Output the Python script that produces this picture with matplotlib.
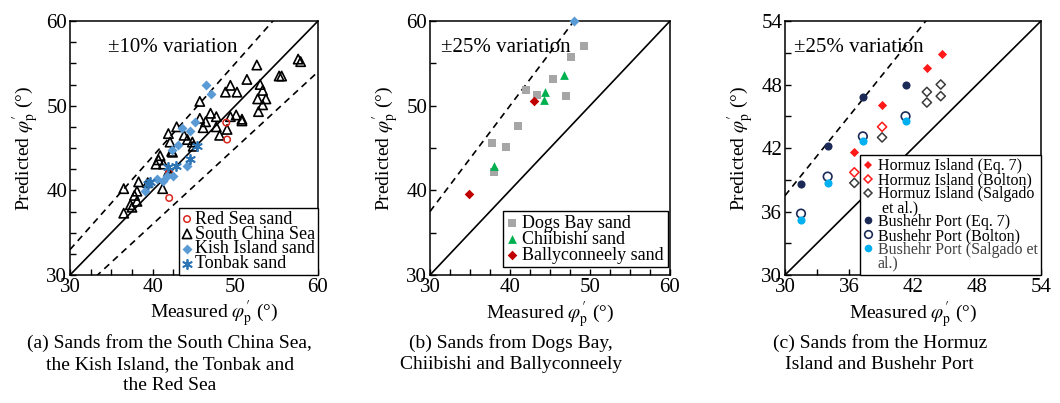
import matplotlib.pyplot as plt
from matplotlib.lines import Line2D
from matplotlib.ticker import MultipleLocator
import numpy as np

plt.rcParams['font.family'] = ['Liberation Serif', 'DejaVu Serif']
plt.rcParams['mathtext.fontset'] = 'stix'

# (a) South China Sea, Kish Island, Tonbak, Red Sea
red_sea_x = [48.9, 49.0, 42.0, 42.0]
red_sea_y = [48.0, 46.0, 42.1, 39.1]
scs_x = [52.6, 57.6, 57.9, 55.3, 55.6, 51.4, 49.4, 48.8, 50.2, 53.0, 53.3, 52.7, 53.7,
         53.3, 52.8, 45.7, 47.0, 47.7, 45.7, 46.4, 46.1, 49.4, 50.1, 50.8, 50.8, 47.7,
         49.0, 48.1, 42.9, 41.9, 43.8, 44.2, 44.8, 42.1, 42.3, 42.4, 44.9, 40.9, 40.7,
         40.4, 41.3, 41.9, 41.2, 38.3, 39.4, 36.5, 38.1, 37.8, 38.1, 37.3, 37.5, 36.5]
scs_y = [54.8, 55.5, 55.2, 53.5, 53.5, 53.1, 52.4, 51.6, 51.6, 52.5, 51.8, 50.8, 50.8,
         50.1, 49.3, 50.5, 49.1, 48.7, 48.5, 48.1, 47.4, 48.7, 48.9, 48.4, 48.2, 47.5,
         47.2, 46.5, 47.5, 46.7, 46.5, 46.0, 45.7, 45.7, 44.6, 44.5, 45.2, 44.1, 43.6,
         43.1, 43.1, 42.2, 40.2, 41.0, 40.9, 40.2, 39.9, 39.4, 38.7, 38.3, 38.0, 37.3]
kish_x = [46.5, 47.0, 45.1, 43.5, 44.5, 43.1, 42.3, 44.1, 41.7, 42.4, 41.3, 40.5, 39.1]
kish_y = [52.4, 51.4, 48.1, 47.4, 47.0, 45.4, 44.8, 42.9, 41.7, 41.7, 41.1, 41.3, 39.9]
tonbak_x = [39.4, 39.7, 41.8, 42.8, 44.5, 45.4]
tonbak_y = [40.7, 41.0, 42.7, 42.9, 43.7, 45.2]

# (b) Dogs Bay, Chiibishi, Ballyconneely
dogs_x = [49.2, 47.6, 45.4, 43.4, 42.0, 47.0, 41.0, 37.7, 39.5, 38.0]
dogs_y = [57.0, 55.8, 53.1, 51.3, 51.9, 51.1, 47.6, 45.6, 45.1, 42.2]
chii_x = [46.75, 44.4, 44.25, 38.0]
chii_y = [53.6, 51.6, 50.7, 42.9]
bally_x = [43.0, 34.9]
bally_y = [50.5, 39.6]
edge_x = [48.0]
edge_y = [60.0]

# (c) Hormuz Island and Bushehr Port
hz_eq7_x = [44.7, 43.3, 39.1, 36.5]
hz_eq7_y = [50.9, 49.6, 46.1, 41.6]
hz_bol_x = [39.1, 36.5]
hz_bol_y = [44.0, 39.7]
hz_sal_x = [44.6, 44.6, 43.3, 43.3, 39.1, 36.5]
hz_sal_y = [48.0, 46.9, 47.3, 46.3, 43.0, 38.7]
bp_x = [41.3, 37.3, 34.0, 31.5]
bp_eq7_y = [48.0, 46.8, 42.2, 38.6]
bp_bol_y = [45.0, 43.1, 39.3, 35.8]
bp_sal_y = [44.55, 42.7, 38.7, 35.2]

xlabel = r'Measured $\varphi^{\prime}_{\rm p}$ (°)'
ylabel = r'Predicted $\varphi^{\prime}_{\rm p}$ (°)'

fig = plt.figure(figsize=(10.6, 4.03), dpi=100)
W, H = 1060, 403


def box(left, right, top, bottom):
    return [left / W, 1 - bottom / H, (right - left) / W, (bottom - top) / H]


ax_a = fig.add_axes(box(70, 318, 21, 275))
ax_b = fig.add_axes(box(430, 670, 21, 275))
ax_c = fig.add_axes(box(785, 1041, 21, 275))


def setup(ax, lo, hi, major, xminor, yminor, var, text):
    ax.set_xlim(lo, hi)
    ax.set_ylim(lo, hi)
    ax.xaxis.set_major_locator(MultipleLocator(major))
    ax.yaxis.set_major_locator(MultipleLocator(major))
    ax.xaxis.set_minor_locator(MultipleLocator(xminor))
    ax.yaxis.set_minor_locator(MultipleLocator(yminor))
    ax.tick_params(which='both', direction='in', length=4, width=1,
                   top=False, right=False, labelsize=15, pad=2)
    for s in ax.spines.values():
        s.set_linewidth(1.1)
    xs = np.array([lo, hi])
    ax.plot(xs, xs, color='black', lw=1.2, zorder=1)
    ax.plot(xs, xs * (1 + var), color='black', lw=1.2, ls=(0, (4, 3)), zorder=1)
    ax.set_xlabel(xlabel, fontsize=14, labelpad=2)
    ax.set_ylabel(ylabel, fontsize=14, labelpad=4)
    ax.text(0.155, 0.895, text, transform=ax.transAxes, fontsize=15,
            va='center', ha='left')


setup(ax_a, 30, 60, 10, 2.5, 2.5, 0.10, '±10% variation')
ax_a.plot([30, 60], [27, 54], color='black', lw=1.2, ls=(0, (4, 3)), zorder=1)
ax_a.xaxis.set_label_coords(0.58, -0.09)
setup(ax_b, 30, 60, 10, 2.5, 5, 0.25, '±25% variation')
setup(ax_c, 30, 54, 6, 3, 3, 0.25, '±25% variation')
ax_b.texts[0].set_x(0.045)
ax_c.texts[0].set_x(0.035)

# panel (a)
ax_a.scatter(red_sea_x, red_sea_y, s=22, facecolor='none', edgecolor='#d7261e',
             lw=1.1, label='Red Sea sand', zorder=3)
ax_a.scatter(scs_x, scs_y, s=45, marker='^', facecolor='none', edgecolor='black',
             lw=1.2, label='South China Sea', zorder=2)
ax_a.scatter(kish_x, kish_y, s=26, marker='D', color='#5b9bd5', lw=0,
             label='Kish Island sand', zorder=3)
ax_a.scatter(tonbak_x, tonbak_y, s=45, marker=(6, 2, 0), color='#2e75b6', lw=1.3,
             label='Tonbak sand', zorder=3)
ax_a.legend(loc='lower right', fontsize=13, frameon=True, fancybox=False,
            edgecolor='black', framealpha=1, borderaxespad=0, borderpad=0.15,
            handlelength=0.6, handletextpad=0.15, labelspacing=-0.12)

# panel (b)
ax_b.scatter(dogs_x, dogs_y, s=26, marker='s', color='#a6a6a6', lw=0,
             label='Dogs Bay sand', zorder=3)
ax_b.scatter(chii_x, chii_y, s=40, marker='^', color='#00b050', lw=0,
             label='Chiibishi sand', zorder=3)
ax_b.scatter(bally_x, bally_y, s=24, marker='D', color='#c00000', lw=0,
             label='Ballyconneely sand', zorder=3)
ax_b.scatter(edge_x, edge_y, s=26, marker='D', color='#5b9bd5', lw=0,
             zorder=4, clip_on=False)
ax_b.legend(loc='lower right', bbox_to_anchor=(0.99, 0.03), fontsize=13,
            frameon=True, fancybox=False, edgecolor='black', framealpha=1,
            borderaxespad=0, borderpad=0.2, handlelength=0.6,
            handletextpad=0.3, labelspacing=-0.05)

# panel (c)
ax_c.scatter(hz_eq7_x, hz_eq7_y, s=22, marker='D', color='#ff1a1a', lw=0, zorder=3)
ax_c.scatter(hz_bol_x, hz_bol_y, s=22, marker='D', facecolor='none',
             edgecolor='#ff1a1a', lw=1.1, zorder=3)
ax_c.scatter(hz_sal_x, hz_sal_y, s=22, marker='D', facecolor='none',
             edgecolor='#3a3a3a', lw=1.1, zorder=3)
ax_c.scatter(bp_x, bp_eq7_y, s=34, color='#1c2a57', lw=0, zorder=3)
ax_c.scatter(bp_x, bp_bol_y, s=38, facecolor='none', edgecolor='#1c2a57',
             lw=1.2, zorder=3)
ax_c.scatter(bp_x, bp_sal_y, s=34, color='#00b0f0', lw=0, zorder=3)

blank = Line2D([], [], ls='none')
handles_c = [
    Line2D([], [], ls='none', marker='D', ms=4.5, color='#ff1a1a', mew=0),
    Line2D([], [], ls='none', marker='D', ms=4.5, mfc='none', mec='#ff1a1a', mew=1.1),
    Line2D([], [], ls='none', marker='D', ms=4.5, mfc='none', mec='#3a3a3a', mew=1.1),
    blank,
    Line2D([], [], ls='none', marker='o', ms=5.5, color='#1c2a57', mew=0),
    Line2D([], [], ls='none', marker='o', ms=5.5, mfc='none', mec='#1c2a57', mew=1.2),
    Line2D([], [], ls='none', marker='o', ms=5.5, color='#00b0f0', mew=0),
    blank,
]
labels_c = ['Hormuz Island (Eq. 7)', 'Hormuz Island (Bolton)', 'Hormuz Island (Salgado',
            ' et al.)', 'Bushehr Port (Eq. 7)', 'Bushehr Port (Bolton)',
            'Bushehr Port (Salgado et', 'al.)']
leg_c = ax_c.legend(handles_c, labels_c, loc='lower right', fontsize=11.5,
                    frameon=True, fancybox=False, edgecolor='black', framealpha=1,
                    borderaxespad=0, borderpad=0.2, handlelength=0.6,
                    handletextpad=0.3, labelspacing=-0.13)
for t in leg_c.get_texts()[6:]:
    t.set_color('#404040')

captions = [
    (0.160, '(a) Sands from the South China Sea,\nthe Kish Island, the Tonbak and\nthe Red Sea'),
    (0.482, '(b) Sands from Dogs Bay,\nChiibishi and Ballyconneely'),
    (0.830, '(c) Sands from the Hormuz\nIsland and Bushehr Port'),
]
for x, text in captions:
    fig.text(x, 0.172, text, ha='center', va='top', fontsize=14, linespacing=1.32)

fig.savefig('out.png', dpi=100)
